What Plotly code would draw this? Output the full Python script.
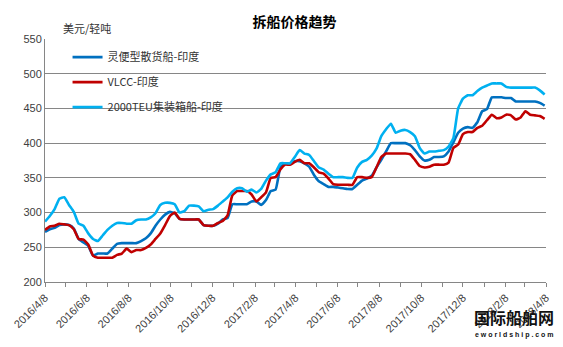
import pandas as pd
import plotly.graph_objects as go

start_date = "2016-04-08"
series_names = ["灵便型散货船-印度", "VLCC-印度", "2000TEU集装箱船-印度"]

handy = [272, 276, 278, 282, 283, 282, 277, 262, 257, 252,
         238, 241, 241, 241, 248, 255, 256, 256, 256, 256,
         259, 263, 270, 281, 290, 297, 301, 299, 291, 290,
         290, 290, 290, 282, 281, 281, 284, 290, 292, 312,
         312, 312, 312, 316, 316, 311, 318, 331, 333, 365,
         371, 370, 374, 374, 371, 366, 354, 345, 341, 337,
         337, 336, 335, 334, 334, 340, 346, 349, 353, 365,
         376, 388, 400, 400, 400, 400, 397, 390, 381, 375,
         376, 380, 380, 381, 388, 401, 415, 421, 423, 422,
         430, 446, 449, 466, 466, 466, 465, 465, 460, 460,
         460, 460, 460, 458, 454]

vlcc = [275, 280, 281, 284, 283, 282, 276, 262, 261, 254,
        238, 235, 235, 235, 235, 239, 241, 248, 243, 246,
        246, 249, 254, 262, 270, 282, 295, 300, 291, 290,
        290, 290, 290, 282, 281, 281, 285, 288, 296, 325,
        331, 331, 331, 326, 316, 322, 329, 350, 351, 362,
        369, 369, 373, 376, 371, 371, 365, 358, 356, 349,
        341, 340, 340, 340, 340, 351, 351, 350, 351, 365,
        380, 385, 385, 385, 385, 385, 384, 376, 367, 365,
        366, 369, 369, 369, 372, 393, 398, 413, 416, 416,
        422, 425, 433, 441, 436, 437, 441, 440, 434, 437,
        446, 441, 440, 439, 435]

teu2000 = [287, 295, 305, 320, 322, 311, 301, 284, 281, 270,
           262, 259, 267, 275, 281, 285, 285, 284, 284, 289,
           290, 290, 293, 299, 311, 314, 314, 312, 300, 302,
           310, 310, 309, 302, 304, 305, 310, 316, 322, 330,
           335, 335, 330, 333, 329, 334, 346, 355, 358, 371,
           371, 371, 380, 390, 385, 383, 374, 365, 362, 356,
           351, 351, 351, 350, 350, 365, 373, 376, 382, 392,
           410, 420, 428, 415, 418, 419, 416, 410, 393, 385,
           388, 388, 389, 390, 395, 407, 450, 464, 469, 469,
           475, 480, 483, 486, 486, 486, 481, 480, 480, 480,
           480, 480, 480, 476, 470]

dates = pd.date_range(start_date, periods=len(handy), freq="7D")

colors = ["#0070C0", "#C00000", "#00B0F0"]
values = [handy, vlcc, teu2000]

fig = go.Figure()
for name, vals, col in zip(series_names, values, colors):
    fig.add_trace(go.Scatter(
        x=dates, y=vals, name=name, mode="lines",
        line=dict(color=col, width=2.6, shape="spline", smoothing=0.4),
        legendgroup=name,
    ))

font_cn = "Noto Sans CJK SC, Liberation Sans, Arial, sans-serif"
font_lat = "Liberation Sans, Arial, sans-serif"

fig.update_layout(
    width=563, height=347,
    margin=dict(l=42, r=16, t=39, b=58),
    paper_bgcolor="white", plot_bgcolor="white",
    title=dict(text="<b>拆船价格趋势</b>", x=0.523, xanchor="center",
               y=1 - 22 / 347, yanchor="middle",
               font=dict(family=font_cn, size=14, color="#000000")),
    showlegend=True,
    legend=dict(x=0.045, xanchor="left", y=0.985, yanchor="top",
                bgcolor="rgba(0,0,0,0)", tracegroupgap=6,
                font=dict(family=font_cn, size=11, color="#333333"),
                itemwidth=30),
    xaxis=dict(
        type="date",
        range=["2016-04-08", "2018-04-08"],
        tick0="2016-04-08", dtick="M2", tickformat="%Y/%-m/%-d",
        tickangle=-45, ticks="outside", ticklen=4, tickcolor="#868686",
        showline=True, linecolor="#868686", linewidth=1,
        showgrid=False, zeroline=False,
        tickfont=dict(family=font_lat, size=11, color="#404040"),
        minor=dict(dtick="M1", tick0="2016-04-08", ticks="outside",
                   ticklen=4, tickcolor="#868686", showgrid=False),
    ),
    yaxis=dict(
        range=[200, 550], dtick=50, tick0=200,
        showgrid=True, gridcolor="#868686", gridwidth=1,
        showline=True, linecolor="#868686", linewidth=1,
        zeroline=False, ticks="",
        tickfont=dict(family=font_lat, size=11, color="#404040"),
    ),
    annotations=[
        dict(text="美元/轻吨", xref="paper", yref="paper",
             x=(58 - 42) / 505, y=1 + (39 - 28) / 250, xanchor="left", yanchor="middle",
             showarrow=False, font=dict(family=font_cn, size=11, color="#333333")),
        dict(text="<b>国际船舶网</b>", xref="paper", yref="paper",
             x=(515 - 42) / 505, y=-(338 - 289) / 250, xanchor="center", yanchor="bottom",
             borderpad=0, showarrow=False,
             font=dict(family=font_cn, size=16, color="#111111")),
        dict(text="<b>e w o r l d s h i p . c o m</b>", xref="paper", yref="paper",
             x=(515 - 42) / 505, y=-(338.5 - 289) / 250, xanchor="center", yanchor="top",
             borderpad=0, showarrow=False,
             font=dict(family=font_lat, size=7, color="#111111")),
    ],
)

fig.write_html("out.html")
